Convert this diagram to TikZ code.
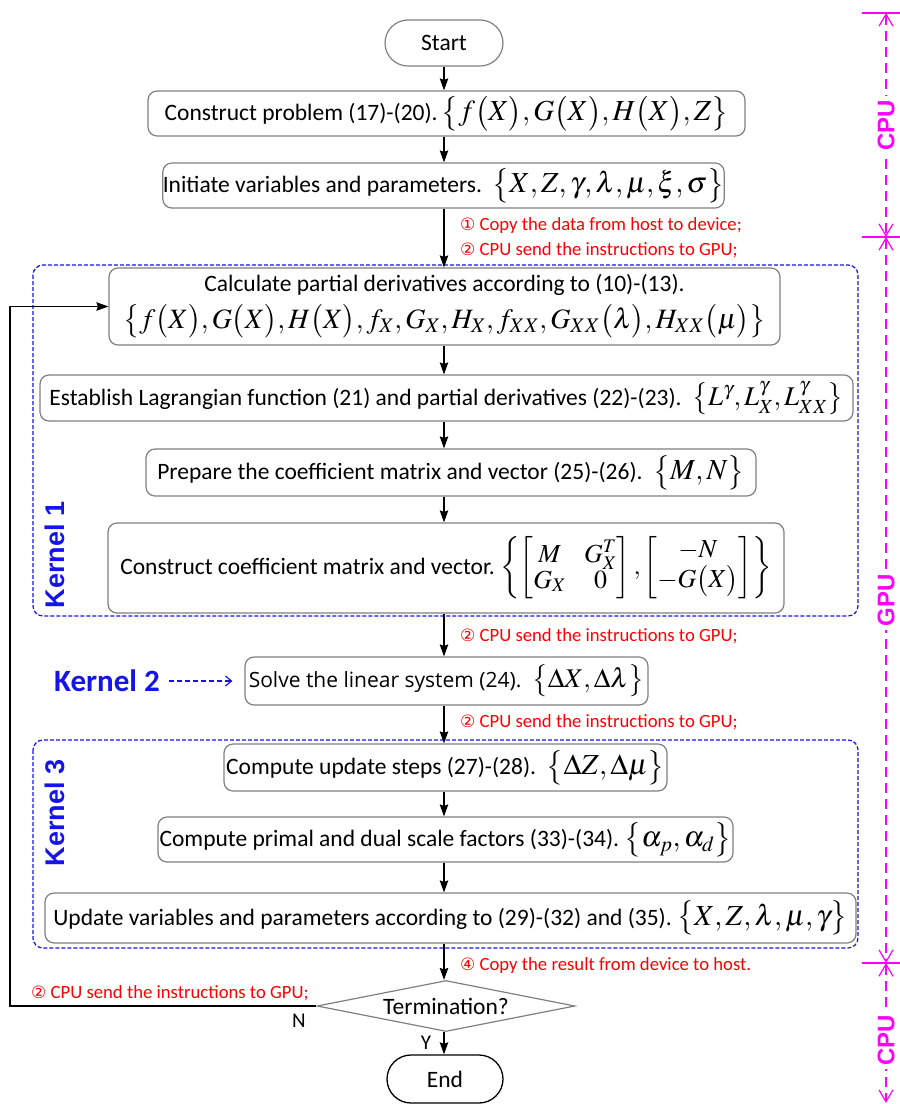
\documentclass[tikz,border=0pt]{standalone}
\usepackage{amsmath}
\usepackage{mathptmx}
\usepackage{fontspec}
\setmainfont{Carlito}
\newfontfamily\arialf{Liberation Sans}
\newfontfamily\symf{DejaVu Sans}
\newfontfamily\solvef{Open Sans}
\usetikzlibrary{arrows.meta,shapes.geometric}
\definecolor{kblue}{RGB}{20,20,235}
\definecolor{mag}{RGB}{255,0,255}
\definecolor{bgray}{RGB}{128,128,128}
\definecolor{rtext}{RGB}{255,0,0}
\newcommand\mth[2][29]{{\fontsize{#1}{#1}\selectfont$#2$}}
\newcommand\cd[1]{{\symf\fontsize{17}{20}\selectfont #1}}
\newcommand\lb{\bigl\{}
\newcommand\rb{\bigr\}}
\newcommand\pa[1]{\bigl(#1\bigr)}
\tikzset{
  box/.style={draw=bgray, line width=1.2pt, rounded corners=9pt, inner sep=0pt, align=center, font=\fontsize{23.5}{27}\selectfont},
  arr/.style={line width=1.3pt, -{Stealth[length=12pt,width=8.5pt,inset=1.5pt]}},
  redlbl/.style={text=rtext, anchor=west, inner sep=0pt, font=\fontsize{18.7}{22}\selectfont},
  kernbox/.style={draw=kblue, line width=1.2pt, dash pattern=on 4pt off 2pt, rounded corners=10pt},
  kernlbl/.style={text=kblue, rotate=90, font=\arialf\bfseries\fontsize{27}{30}\selectfont},
  magline/.style={draw=mag, line width=1.2pt, dash pattern=on 10pt off 6pt, {Straight Barb[length=12pt,width=14pt]}-{Straight Barb[length=12pt,width=14pt]}},
  magbar/.style={draw=mag, line width=1.2pt},
  maglbl/.style={text=mag, rotate=90, fill=white, inner sep=4pt, font=\arialf\bfseries\fontsize{24}{28}\selectfont}
}
\begin{document}
\begin{tikzpicture}[x=1pt,y=-1pt]
\useasboundingbox (0,0) rectangle (900,1104);
\fill[white] (0,0) rectangle (900,1104);
% kernel frames
\draw[kernbox] (33,265) rectangle (858,616);
\draw[kernbox] (33,740) rectangle (858,948);
% axis
\coordinate (ax) at (444,0);
\coordinate (lp) at (10,0);
% nodes
\node[box, minimum width=118pt, minimum height=46pt, rounded corners=23pt] (start) at (444,43) {Start};
\node[box, minimum width=597pt, minimum height=45pt] (b1) at (446.5,113.5) {Construct problem (17)-(20).\,\mth{\lb f\pa{X},G\pa{X},H\pa{X},Z\rb}};
\node[box, minimum width=557pt, minimum height=45pt] (b2) at (443.5,185.5) {Initiate variables and parameters.\ \ \mth{\lb X,Z,\gamma,\lambda,\mu,\xi,\sigma\rb}};
\node[box, minimum width=671pt, minimum height=77pt] (b3) at (444.5,306.5) {Calculate partial derivatives according to (10)-(13).\\[8pt] \mth[28]{\lb f\pa{X},G\pa{X},H\pa{X},f_X,G_X,H_X,f_{XX},G_{XX}\pa{\lambda},H_{XX}\pa{\mu}\rb}};
\node[box, minimum width=813pt, minimum height=46pt] (b4) at (446.5,398) {Establish Lagrangian function (21) and partial derivatives (22)-(23).\ \ \mth[27]{\lb L^{\gamma},L^{\gamma}_X,L^{\gamma}_{XX}\rb}};
\node[box, minimum width=610pt, minimum height=47pt] (b5) at (451,472.5) {Prepare the coefficient matrix and vector (25)-(26).\ \ \mth{\lb M,N\rb}};
\node[box, minimum width=676pt, minimum height=90pt] (b6) at (446,568) {Construct coefficient matrix and vector.\ \mth[26]{\setlength{\arraycolsep}{9pt}\left\{\begin{bmatrix} M & G_X^T\\ G_X & 0\end{bmatrix},\begin{bmatrix}-N\\ -G\pa{X}\end{bmatrix}\right\}}};
\node[box, minimum width=403pt, minimum height=48pt] (b7) at (446.5,681) {{\solvef\fontsize{21}{25}\selectfont Solve the linear system (24).}\ \ \mth[27]{\lb\Delta X,\Delta\lambda\rb}};
\node[box, minimum width=443pt, minimum height=47pt] (b8) at (445.5,767.5) {Compute update steps (27)-(28).\ \ \mth{\lb\Delta Z,\Delta\mu\rb}};
\node[box, minimum width=575pt, minimum height=45pt] (b9) at (445.5,839.5) {Compute primal and dual scale factors (33)-(34).\ \mth{\lb\alpha_p,\alpha_d\rb}};
\node[box, minimum width=811pt, minimum height=50pt] (b10) at (450.5,918) {Update variables and parameters according to (29)-(32) and (35).\ \mth{\lb X,Z,\lambda,\mu,\gamma\rb}};
\node[draw=bgray, line width=1.2pt, diamond, minimum width=258pt, minimum height=51pt, inner sep=0pt] (dia) at (446,1006) {};
\node[font=\fontsize{23.5}{27}\selectfont] (term) at (dia.center) {Termination?};
\node[box, draw=black, line width=1.3pt, minimum width=116pt, minimum height=48pt, rounded corners=24pt] (end) at (445,1079) {End};
% arrows
\draw[arr] (start.south -| ax) -- (b1.north -| ax);
\draw[arr] (b1.south -| ax) -- (b2.north -| ax);
\draw[arr] (b2.south -| ax) -- (b3.north -| ax);
\draw[arr] (b3.south -| ax) -- (b4.north -| ax);
\draw[arr] (b4.south -| ax) -- (b5.north -| ax);
\draw[arr] (b5.south -| ax) -- (b6.north -| ax);
\draw[arr] (b6.south -| ax) -- (b7.north -| ax);
\draw[arr] (b7.south -| ax) -- (b8.north -| ax);
\draw[arr] (b8.south -| ax) -- (b9.north -| ax);
\draw[arr] (b9.south -| ax) -- (b10.north -| ax);
\draw[arr] (b10.south -| ax) -- (dia.north -| ax);
\draw[arr] (dia.south -| ax) -- (end.north -| ax);
\draw[arr] (dia.west) -- (dia.west -| lp) -- (b3.west -| lp) -- (b3.west);
% red labels
\node[redlbl] (r1) at (460,226) {\cd{①} Copy the data from host to device;};
\node[redlbl] (r2) at (460,250) {\cd{②} CPU send the instructions to GPU;};
\node[redlbl] (r3) at (460,636) {\cd{②} CPU send the instructions to GPU;};
\node[redlbl] (r4) at (460,722) {\cd{②} CPU send the instructions to GPU;};
\node[redlbl] (r5) at (460,966) {\cd{④} Copy the result from device to host.};
\node[redlbl] (r6) at (31,993) {\cd{②} CPU send the instructions to GPU;};
\node[font=\fontsize{21}{24}\selectfont] (nl) at (299,1021) {N};
\node[font=\fontsize{21}{24}\selectfont] (yl) at (426,1043) {Y};
% kernel labels
\node[kernlbl] (k1) at (55,555) {Kernel 1};
\node[kernlbl] (k3) at (55,813) {Kernel 3};
\node[text=kblue, font=\bfseries\fontsize{31}{34}\selectfont] (k2) at (107,681) {Kernel 2};
\draw[kblue, line width=1.2pt, dash pattern=on 5pt off 3pt, -{Straight Barb[length=6pt,width=10pt]}, shorten >=12pt] ([xshift=6pt]k2.east) -- (b7.west);
% CPU / GPU bands
\draw[magline] (886,13) -- (886,237);
\draw[magline] (886,237) -- (886,963);
\draw[magline] (886,963) -- (886,1103);
\draw[magbar] (862,13) -- (900,13);
\draw[magbar] (862,237) -- (900,237);
\draw[magbar] (862,963) -- (900,963);
\node[maglbl] (cpu1) at (886,125) {CPU};
\node[maglbl] (gpu) at (886,600) {GPU};
\node[maglbl] (cpu2) at (886,1040) {CPU};
\end{tikzpicture}
\end{document}
